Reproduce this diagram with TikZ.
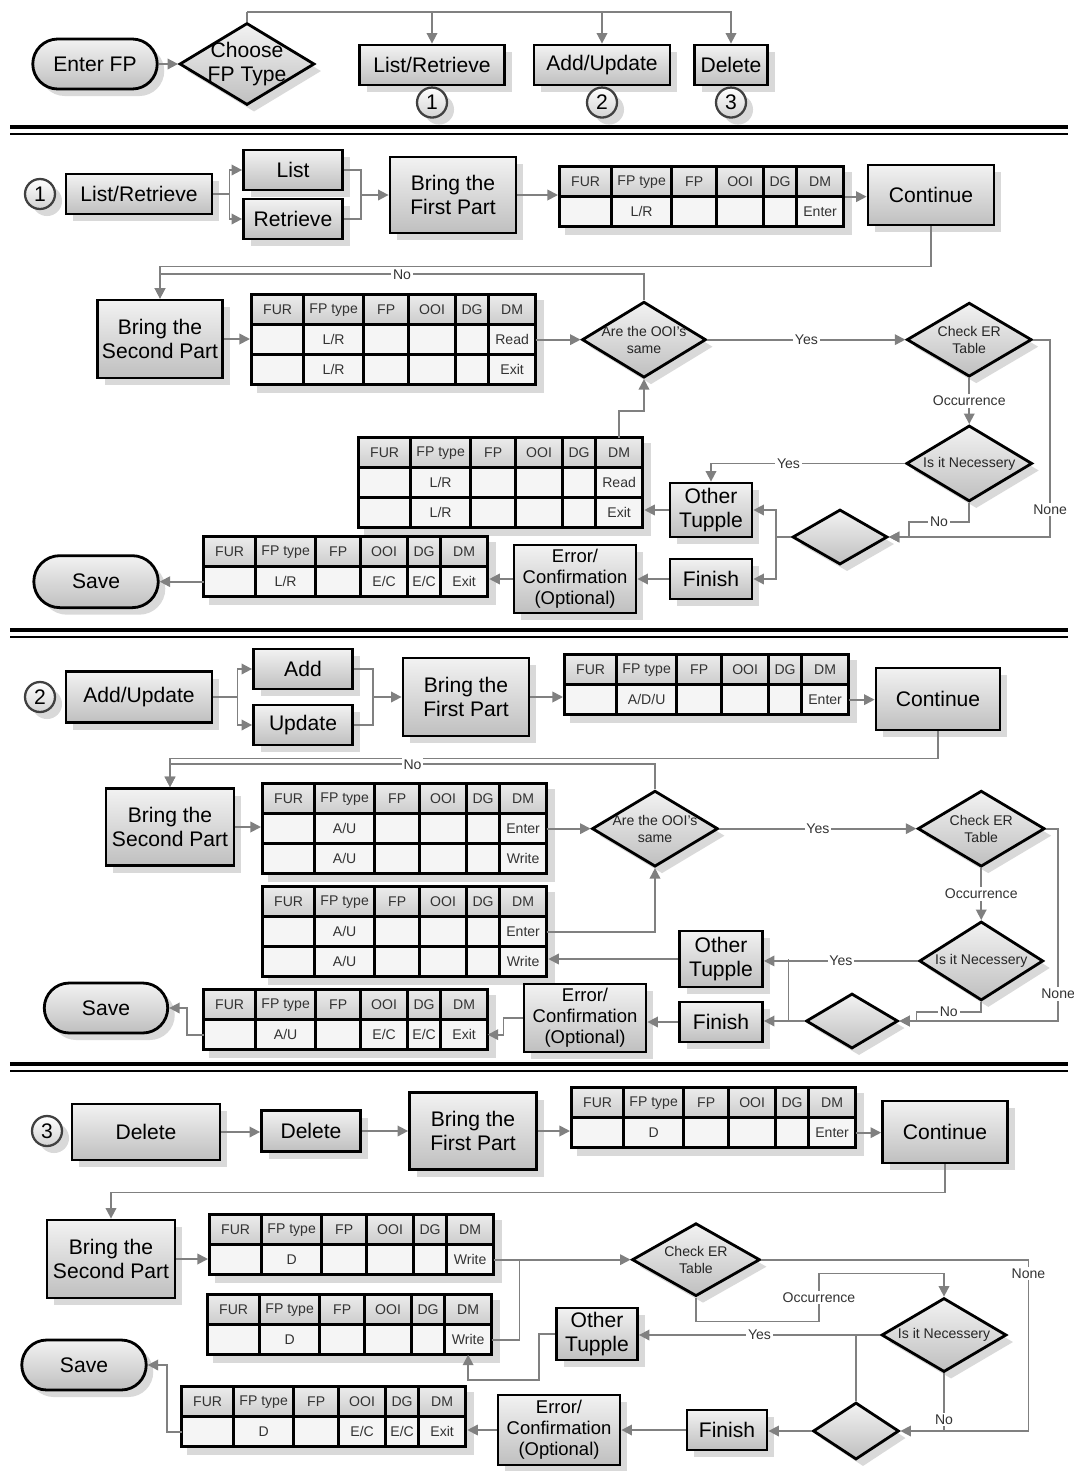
\documentclass[tikz,border=0pt]{standalone}
\usepackage{fontspec}
\setmainfont{Liberation Sans}
\usetikzlibrary{arrows.meta,positioning,calc,matrix,shadows,shapes.geometric,shapes.misc}
\colorlet{cline}{black!50}
\colorlet{clite}{gray!10}
\colorlet{cdark}{gray!50}
\newcommand{\bigf}{\fontsize{12}{13.5}\selectfont}
\newcommand{\midf}{\fontsize{10.5}{12}\selectfont}
\newcommand{\tabf}{\fontsize{8}{9.5}\selectfont}
\tikzset{
  shd/.style={drop shadow={fill=black!15, opacity=1, shadow xshift=4pt, shadow yshift=-4pt}},
  box/.style={rectangle, draw, line width=1.6pt, top color=clite, bottom color=cdark, shd,
    font=\bigf, align=center, inner sep=1pt},
  term/.style={box, rounded rectangle},
  dec/.style={diamond, draw, line width=1.6pt, top color=clite, bottom color=cdark, shd, inner sep=0pt},
  dtext/.style={font=\tabf, align=center, text=black!85},
  num/.style={circle, draw=black!75, line width=1.3pt, top color=white, bottom color=gray!35, shd,
    font=\bigf, inner sep=0pt, minimum size=0.6cm},
  flow/.style={draw=cline, line width=1pt, -{Triangle[length=6pt,width=6pt]}},
  link/.style={draw=cline, line width=1pt},
  lbl/.style={fill=white, font=\tabf, inner sep=1pt, text=black!80},
  sep/.style={line width=1.8pt},
  fptab/.style={matrix of nodes, nodes in empty cells, anchor=north west, inner sep=0pt,
    column sep=-1.5pt, row sep=-1.5pt, shd,
    nodes={draw, line width=1.5pt, fill=gray!8, font=\tabf, text=black!80, inner sep=1pt,
      outer sep=0pt, minimum height=0.6cm, anchor=center},
    column 1/.style={nodes={minimum width=1.04cm}},
    column 2/.style={nodes={minimum width=1.2cm}},
    column 3/.style={nodes={minimum width=0.9cm}},
    column 4/.style={nodes={minimum width=0.94cm}},
    column 5/.style={nodes={minimum width=0.66cm}},
    column 6/.style={nodes={minimum width=0.94cm}},
    row 1/.style={nodes={top color=gray!15, bottom color=gray!40}}},
}
\begin{document}
\begin{tikzpicture}[x=0.02cm, y=-0.02cm]
\path[use as bounding box, fill=white] (0,0) rectangle (1073,1471);

% choose the FP type
\node[term, minimum width=2.56cm, minimum height=1cm] (enter) at (95,64) {Enter FP};
\node[dec, minimum width=2.7cm, minimum height=1.64cm,
  label={[font=\bigf, align=center]center:Choose\\FP Type}] (choose) at (247,64) {};
\node[box, minimum width=2.9cm, minimum height=0.8cm] (lr0) at (432,65) {List/Retrieve};
\node[box, minimum width=2.72cm, minimum height=0.8cm] (au0) at (602,65) {Add/Update};
\node[box, minimum width=1.46cm, minimum height=0.8cm] (del0) at (731,65) {Delete};
\node[num, below=0pt of lr0] (n1) {1};
\node[num, below=0pt of au0] (n2) {2};
\node[num, below=0pt of del0] (n3) {3};
\coordinate (fork) at (247,12);
\draw[flow] (enter) -- (choose);
\draw[link] (choose.north) -- (fork);
\draw[flow] (fork) -| (lr0);
\draw[flow] (fork) -| (au0);
\draw[flow] (fork) -| (del0);
\draw[sep] (10,127) -- (1068,127);
\draw[sep, line width=1.2pt] (10,134) -- (1068,134);

% 1: list / retrieve
\node[num] (c1) at (40,194) {1};
\node[box, minimum width=2.92cm, minimum height=0.8cm] (lr1) at (139,194) {List/Retrieve};
\node[box, minimum width=1.98cm, minimum height=0.8cm] (list1) at (293,170) {List};
\node[box, minimum width=1.98cm, minimum height=0.8cm] (retr1) at (293,219) {Retrieve};
\node[box, minimum width=2.52cm, minimum height=1.52cm] (bf1) at (453,195) {Bring the\\First Part};
\matrix (t1) [fptab] at (558,165) {
  FUR & FP type & FP & OOI & DG & DM \\
      & L/R     &    &     &    & Enter \\
};
\node[box, minimum width=2.52cm, minimum height=1.2cm] (cont1) at (931,195) {Continue};
\node[box, minimum width=2.5cm, minimum height=1.56cm] (bs1) at (160,339) {Bring the\\Second Part};
\matrix (t2) [fptab] at (250,293) {
  FUR & FP type & FP & OOI & DG & DM \\
      & L/R     &    &     &    & Read \\
      & L/R     &    &     &    & Exit \\
};
\node[dec, minimum width=2.48cm, minimum height=1.52cm, right=0.9cm of t2-2-6,
  label={[dtext]center:Are the OOI's\\same}] (ooi1) {};
\node[dec, minimum width=2.5cm, minimum height=1.48cm, right=3.96cm of ooi1,
  label={[dtext]center:Check ER\\Table}] (cer1) {};
\node[dec, minimum width=2.52cm, minimum height=1.52cm, below=0.92cm of cer1,
  label={[dtext]center:Is it Necessery}] (nec1) {};
\node[dec, minimum width=1.9cm, minimum height=1.1cm] (sd1) at (840,537) {};
\node[box, minimum width=1.64cm, minimum height=1.08cm] (ot1) at (711,510) {Other\\Tupple};
\matrix (t3) [fptab] at (357,436) {
  FUR & FP type & FP & OOI & DG & DM \\
      & L/R     &    &     &    & Read \\
      & L/R     &    &     &    & Exit \\
};
\node[box, minimum width=1.64cm, minimum height=0.8cm] (fin1) at (711,579) {Finish};
\node[box, font=\midf, minimum width=2.44cm, minimum height=1.36cm] (err1) at (575,579) {Error/\\Confirmation\\(Optional)};
\matrix (t4) [fptab] at (202,535) {
  FUR & FP type & FP & OOI & DG & DM \\
      & L/R     &    & E/C & E/C & Exit \\
};
\node[term, minimum width=2.56cm, minimum height=1.04cm, left=0.88cm of t4-2-1] (save1) {Save};

\draw[flow] (lr1.east) -- ++(16,0) coordinate (s1) |- (list1.west);
\draw[flow] (s1) |- (retr1.west);
\draw[link] (list1.east) -- ++(17,0) coordinate (j1) |- (retr1.east);
\draw[flow] (j1 |- bf1.west) -- (bf1.west);
\draw[flow] (bf1.east) -- (bf1.east -| t1.west);
\draw[flow] (t1.east) -- (t1.east -| cont1.west);
\draw[flow] (cont1.south) -- ++(0,40) -| (bs1.north);
\draw[flow] (ooi1.north) -- ++(0,-26) -| node[lbl, pos=0.25] {No} (bs1.north);
\draw[flow] (bs1.east) -- (bs1.east -| t2.west);
\draw[flow] (t2-2-6.east) -- (ooi1.west);
\draw[flow] (ooi1.east) -- node[lbl] {Yes} (cer1.west);
\draw[flow] (cer1.south) -- node[lbl] {Occurrence} (nec1.north);
\draw[flow] (cer1.east) -- ++(17,0) |- node[lbl, pos=0.43] {None} (sd1.east);
\draw[flow] (nec1.south) |- node[lbl, pos=0.75] {No} ($(sd1.east)+(20,-15)$) |- (sd1.east);
\draw[flow] (nec1.west) -| node[lbl, pos=0.3] {Yes} (ot1.north);
\draw[flow] (sd1.west) -- ++(-15,0) coordinate (k1) |- (ot1.east);
\draw[flow] (k1) |- (fin1.east);
\draw[flow] (ot1.west) -- (ot1.west -| t3.east);
\draw[flow] (t3-1-6.north) -- ++(0,-27) -| (ooi1.south);
\draw[flow] (fin1.west) -- (fin1.west -| err1.east);
\draw[flow] (err1.west) -- (err1.west -| t4.east);
\draw[flow] (t4-2-1.west) -- (save1.east);
\draw[sep] (10,630) -- (1068,630);
\draw[sep, line width=1.2pt] (10,637) -- (1068,637);

% 2: add / update
\node[num] (c2) at (40,697) {2};
\node[box, minimum width=2.92cm, minimum height=1.02cm] (au2) at (139,697) {Add/Update};
\node[box, minimum width=1.98cm, minimum height=0.8cm] (add2) at (303,669) {Add};
\node[box, minimum width=1.98cm, minimum height=0.8cm] (upd2) at (303,725) {Update};
\node[box, minimum width=2.52cm, minimum height=1.56cm] (bf2) at (466,697) {Bring the\\First Part};
\matrix (t5) [fptab] at (563,653) {
  FUR & FP type & FP & OOI & DG & DM \\
      & A/D/U   &    &     &    & Enter \\
};
\node[box, minimum width=2.48cm, minimum height=1.24cm] (cont2) at (938,699) {Continue};
\node[box, minimum width=2.56cm, minimum height=1.54cm] (bs2) at (170,827) {Bring the\\Second Part};
\matrix (t6) [fptab] at (261,782) {
  FUR & FP type & FP & OOI & DG & DM \\
      & A/U     &    &     &    & Enter \\
      & A/U     &    &     &    & Write \\
};
\node[dec, minimum width=2.52cm, minimum height=1.52cm, right=0.88cm of t6-2-6,
  label={[dtext]center:Are the OOI's\\same}] (ooi2) {};
\node[dec, minimum width=2.54cm, minimum height=1.52cm, right=3.94cm of ooi2,
  label={[dtext]center:Check ER\\Table}] (cer2) {};
\node[dec, minimum width=2.48cm, minimum height=1.58cm, below=1.04cm of cer2,
  label={[dtext]center:Is it Necessery}] (nec2) {};
\node[dec, minimum width=1.84cm, minimum height=1.1cm] (sd2) at (852,1021) {};
\node[box, minimum width=1.66cm, minimum height=1.12cm] (ot2) at (721,959) {Other\\Tupple};
\matrix (t7) [fptab] at (261,885) {
  FUR & FP type & FP & OOI & DG & DM \\
      & A/U     &    &     &    & Enter \\
      & A/U     &    &     &    & Write \\
};
\node[box, minimum width=1.66cm, minimum height=0.8cm] (fin2) at (721,1022) {Finish};
\node[box, font=\midf, minimum width=2.44cm, minimum height=1.36cm] (err2) at (585,1018) {Error/\\Confirmation\\(Optional)};
\matrix (t8) [fptab] at (202,988) {
  FUR & FP type & FP & OOI & DG & DM \\
      & A/U     &    & E/C & E/C & Exit \\
};
\node[term, minimum width=2.54cm, minimum height=1cm] (save2) at (106,1008) {Save};

\draw[flow] (au2.east) -- ++(24,0) coordinate (s2) |- (add2.west);
\draw[flow] (s2) |- (upd2.west);
\draw[link] (add2.east) -- ++(19,0) coordinate (j2) |- (upd2.east);
\draw[flow] (j2 |- bf2.west) -- (bf2.west);
\draw[flow] (bf2.east) -- (bf2.east -| t5.west);
\draw[flow] (t5-2-6.east) -- (t5-2-6.east -| cont2.west);
\draw[flow] (cont2.south) -- ++(0,27) -| (bs2.north);
\draw[flow] (ooi2.north) -- ++(0,-25) -| node[lbl, pos=0.25] {No} (bs2.north);
\draw[flow] (bs2.east) -- (bs2.east -| t6.west);
\draw[flow] (t6-2-6.east) -- (ooi2.west);
\draw[flow] (ooi2.east) -- node[lbl] {Yes} (cer2.west);
\draw[flow] (cer2.south) -- node[lbl] {Occurrence} (nec2.north);
\draw[flow] (cer2.east) -- ++(12,0) |- node[lbl, pos=0.43] {None} (sd2.east);
\draw[flow] (nec2.south) |- node[lbl, pos=0.75] {No} ($(sd2.east)+(17,-9)$) |- (sd2.east);
\draw[flow] (sd2.west) -- ++(-16,0) coordinate (k2) -- (k2 -| fin2.east);
\draw[link] (k2) -- (k2 |- ot2.east);
\draw[flow] (nec2.west) -- node[lbl] {Yes} (nec2.west -| ot2.east);
\draw[flow] (ot2.west) -- (ot2.west -| t7.east);
\draw[flow] (t7-2-6.east) -| (ooi2.south);
\draw[flow] (fin2.west) -- (fin2.west -| err2.east);
\draw[flow] (err2.west) -- ++(-19,0) |- (t8-2-6.east);
\draw[flow] (t8-2-1.west) -- ++(-17,0) |- (save2.east);
\draw[sep] (10,1064) -- (1068,1064);
\draw[sep, line width=1.2pt] (10,1071) -- (1068,1071);

% 3: delete
\node[num] (c3) at (47,1131) {3};
\node[box, minimum width=2.96cm, minimum height=1.12cm] (del1) at (146,1132) {Delete};
\node[box, minimum width=1.98cm, minimum height=0.82cm] (del2) at (311,1131) {Delete};
\node[box, minimum width=2.54cm, minimum height=1.54cm] (bf3) at (473,1131) {Bring the\\First Part};
\matrix (t9) [fptab] at (570,1086) {
  FUR & FP type & FP & OOI & DG & DM \\
      & D       &    &     &    & Enter \\
};
\node[box, minimum width=2.5cm, minimum height=1.24cm] (cont3) at (945,1132) {Continue};
\node[box, minimum width=2.56cm, minimum height=1.56cm] (bs3) at (111,1259) {Bring the\\Second Part};
\matrix (t10) [fptab] at (208,1213) {
  FUR & FP type & FP & OOI & DG & DM \\
      & D       &    &     &    & Write \\
};
\matrix (t11) [fptab] at (206,1293) {
  FUR & FP type & FP & OOI & DG & DM \\
      & D       &    &     &    & Write \\
};
\node[dec, minimum width=2.56cm, minimum height=1.46cm, right=2.74cm of t10-2-6,
  label={[dtext]center:Check ER\\Table}] (cer3) {};
\node[dec, minimum width=2.5cm, minimum height=1.48cm,
  label={[dtext]center:Is it Necessery}] (nec3) at (944,1335) {};
\node[dec, minimum width=1.72cm, minimum height=1.14cm] (sd3) at (856,1431) {};
\node[box, minimum width=1.62cm, minimum height=1.04cm] (ot3) at (597,1334) {Other\\Tupple};
\node[box, minimum width=1.6cm, minimum height=0.8cm] (fin3) at (727,1430) {Finish};
\node[box, font=\midf, minimum width=2.44cm, minimum height=1.4cm] (err3) at (559,1430) {Error/\\Confirmation\\(Optional)};
\matrix (t12) [fptab] at (180,1385) {
  FUR & FP type & FP & OOI & DG & DM \\
      & D       &    & E/C & E/C & Exit \\
};
\node[term, minimum width=2.56cm, minimum height=1cm] (save3) at (84,1365) {Save};

\draw[flow] (del1.east) -- (del1.east -| del2.west);
\draw[flow] (del2.east) -- (del2.east -| bf3.west);
\draw[flow] (bf3.east) -- (bf3.east -| t9.west);
\draw[flow] (t9-2-6.east) -- (t9-2-6.east -| cont3.west);
\draw[flow] (cont3.south) -- ++(0,28) -| (bs3.north);
\draw[flow] (bs3.east) -- (bs3.east -| t10.west);
\draw[flow] (t10-2-6.east) -- (cer3.west);
\draw[link] (t11-2-6.east) -- ++(28,0) |- (t10-2-6.east);
\draw[flow] (cer3.east) -| node[lbl, pos=0.54] {None} ($(sd3.east)+(128,0)$) -- (sd3.east);
\draw[flow] (cer3.south) -- ++(0,24) -| node[lbl, pos=0.75] {Occurrence} ++(123,-48) -| (nec3.north);
\draw[link] (nec3.south) -- node[lbl, pos=0.8] {No} (nec3.south |- sd3.east);
\draw[link] (sd3.north) -- (sd3.north |- nec3.west);
\draw[flow] (nec3.west) -- node[lbl] {Yes} (nec3.west -| ot3.east);
\draw[flow] (ot3.west) -- ++(-16,0) |- ($(t11-2-6.south)+(0,25)$) -- (t11-2-6.south);
\draw[flow] (sd3.west) -- (sd3.west -| fin3.east);
\draw[flow] (fin3.west) -- (fin3.west -| err3.east);
\draw[flow] (err3.west) -- (err3.west -| t12.east);
\draw[flow] (t12-2-1.west) -- ++(-15,0) |- (save3.east);
\end{tikzpicture}
\end{document}
